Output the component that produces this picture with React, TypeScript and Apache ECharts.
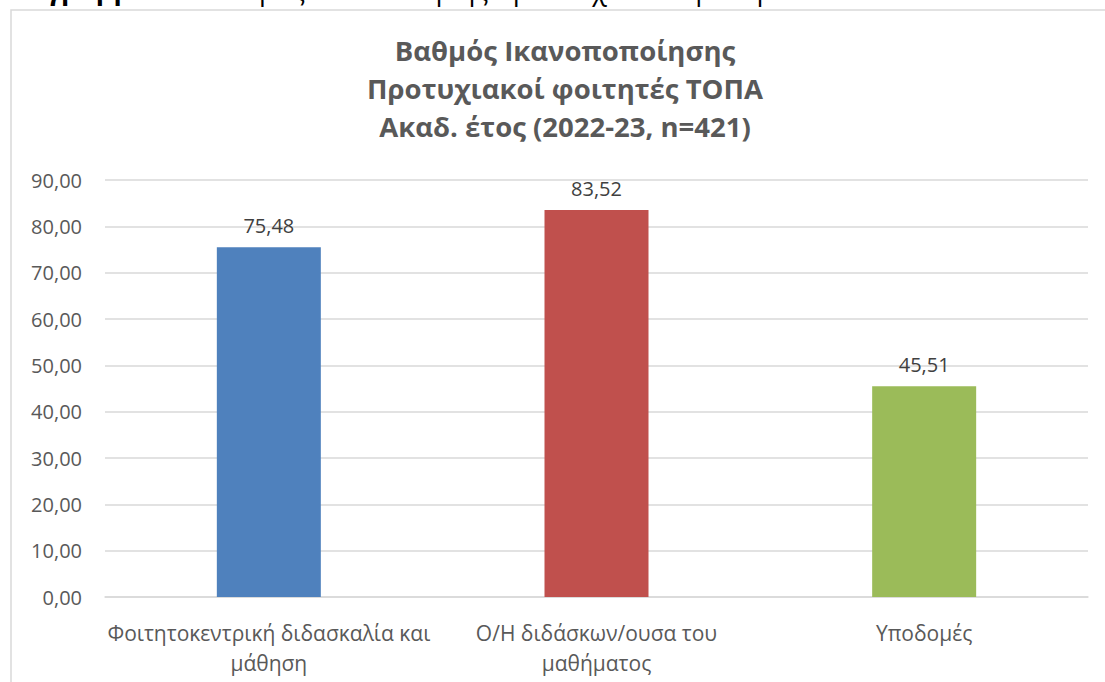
import React, { useEffect, useRef } from "react";
import * as echarts from "echarts";

const categories = [
  "Φοιτητοκεντρική διδασκαλία και\nμάθηση",
  "Ο/Η διδάσκων/ουσα του\nμαθήματος",
  "Υποδομές",
];
const values = [75.48, 83.52, 45.51];
const barColors = ["#4f81bd", "#c0504d", "#9bbb59"];
const titleLines = [
  "Βαθμός Ικανοποποίησης",
  "Προτυχιακοί φοιτητές ΤΟΠΑ",
  "Ακαδ. έτος (2022-23, n=421)",
];
const captionBold = "Διάγραμμα 2.2:";
const captionRest = " Βαθμός ικανοποίησης προπτυχιακών φοιτητών 2022-2023";

const FONT = "'Open Sans', 'Noto Sans', sans-serif";
const fmt = (v: number) => v.toFixed(2).replace(".", ",");

export default function App() {
  const ref = useRef<HTMLDivElement>(null);
  useEffect(() => {
    if (!ref.current) return;
    const chart = echarts.init(ref.current, undefined, { renderer: "svg" });
    chart.setOption({
      animation: false,
      backgroundColor: "#ffffff",
      textStyle: { fontFamily: FONT },
      graphic: [
        {
          type: "rect",
          shape: { x: 11, y: 10, width: 1110, height: 700 },
          style: { fill: "none", stroke: "#d9d9d9", lineWidth: 1.5 },
          silent: true,
        },
        {
          type: "text",
          x: 0,
          y: -11,
          style: {
            text: "{b|" + captionBold + "}{n|" + captionRest + "}",
            verticalAlign: "middle",
            rich: {
              b: { fontFamily: FONT, fontSize: 27, fontWeight: "bold", fill: "#000" },
              n: { fontFamily: FONT, fontSize: 27, fill: "#000" },
            },
          },
          silent: true,
        },
        {
          type: "text",
          x: 565,
          y: 31,
          style: {
            text: titleLines.join("\n"),
            align: "center",
            verticalAlign: "top",
            fontFamily: FONT,
            fontSize: 27.5,
            fontWeight: "bold",
            fill: "#595959",
            lineHeight: 38,
          },
          silent: true,
        },
      ],
      grid: { left: 105, right: 17, top: 180, bottom: 85 },
      xAxis: {
        type: "category",
        data: categories,
        axisLine: { show: true, lineStyle: { color: "#d9d9d9", width: 1.5 } },
        axisTick: { show: false },
        axisLabel: {
          color: "#595959",
          fontSize: 21,
          fontFamily: FONT,
          lineHeight: 30,
          margin: 21,
          interval: 0,
        },
      },
      yAxis: {
        type: "value",
        min: 0,
        max: 90,
        interval: 10,
        axisLine: { show: false },
        axisTick: { show: false },
        splitLine: { lineStyle: { color: "#d9d9d9", width: 1.5 } },
        axisLabel: {
          color: "#595959",
          fontSize: 20,
          fontFamily: FONT,
          margin: 23,
          formatter: (v: number) => fmt(v),
        },
      },
      series: [
        {
          type: "bar",
          barWidth: 104,
          data: values.map((v, i) => ({ value: v, itemStyle: { color: barColors[i] } })),
          label: {
            show: true,
            position: "top",
            distance: 12,
            color: "#404040",
            fontSize: 20,
            fontFamily: FONT,
            formatter: (p: any) => fmt(p.value),
          },
        },
      ],
    });
    return () => chart.dispose();
  }, []);
  return (
    <div
      ref={ref}
      style={{ position: "fixed", left: 0, top: 0, width: 1105, height: 682 }}
    />
  );
}
